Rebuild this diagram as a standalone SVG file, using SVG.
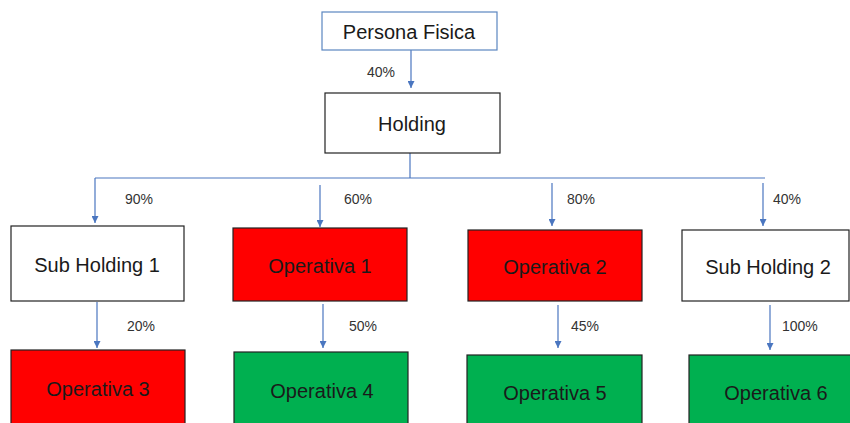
<svg xmlns="http://www.w3.org/2000/svg" width="850" height="423" viewBox="0 0 850 423">
<style>
.box{stroke:#222;stroke-width:1.2}
.w{fill:#fff}
.r{fill:#ff0000}
.g{fill:#00b050}
.t{font-family:"Liberation Sans",Arial,sans-serif;font-size:20px;fill:#1a1a1a;text-anchor:middle;dominant-baseline:central}
.p{font-family:"Liberation Sans",Arial,sans-serif;font-size:14px;fill:#333}
.c{stroke:#4a76c0;stroke-width:1.2;fill:none}
</style>
<defs>
<marker id="ah" viewBox="0 0 10 10" refX="10" refY="5" markerWidth="7" markerHeight="7" markerUnits="userSpaceOnUse" orient="auto">
<path d="M0,0 L10,5 L0,10 z" fill="#4a76c0"/>
</marker>
</defs>
<rect width="850" height="423" fill="#fff"/>
<g id="connectors">
<line class="c" x1="411" y1="50" x2="411" y2="88" marker-end="url(#ah)"/>
<text class="p" x="367" y="77">40%</text>
<polyline class="c" points="410,153 410,178"/>
<line class="c" x1="95" y1="178" x2="765" y2="178"/>
<line class="c" x1="95" y1="178" x2="95" y2="223" marker-end="url(#ah)"/>
<text class="p" x="125" y="204">90%</text>
<line class="c" x1="320" y1="185" x2="320" y2="227" marker-end="url(#ah)"/>
<text class="p" x="344" y="204">60%</text>
<line class="c" x1="552" y1="183" x2="552" y2="226" marker-end="url(#ah)"/>
<text class="p" x="567" y="204">80%</text>
<line class="c" x1="763" y1="183" x2="763" y2="226" marker-end="url(#ah)"/>
<text class="p" x="773" y="204">40%</text>
<line class="c" x1="97" y1="302" x2="97" y2="348" marker-end="url(#ah)"/>
<text class="p" x="127" y="331">20%</text>
<line class="c" x1="323" y1="304" x2="323" y2="348" marker-end="url(#ah)"/>
<text class="p" x="349" y="331">50%</text>
<line class="c" x1="558" y1="305" x2="558" y2="348" marker-end="url(#ah)"/>
<text class="p" x="571" y="331">45%</text>
<line class="c" x1="770" y1="305" x2="770" y2="350" marker-end="url(#ah)"/>
<text class="p" x="782" y="331">100%</text>
</g>
<g id="persona-fisica">
<rect x="322" y="12" width="175" height="38" fill="#fff" stroke="#5b86c0" stroke-width="1.2"/>
<text class="t" x="409" y="32">Persona Fisica</text>
</g>
<g id="holding">
<rect class="box w" x="325" y="93" width="175" height="60"/>
<text class="t" x="412" y="124">Holding</text>
</g>
<g id="sub-holding-1">
<rect class="box w" x="11" y="226" width="173" height="75"/>
<text class="t" x="97" y="265">Sub Holding 1</text>
</g>
<g id="operativa-1">
<rect class="box r" x="233" y="228" width="174" height="73"/>
<text class="t" x="320" y="266">Operativa 1</text>
</g>
<g id="operativa-2">
<rect class="box r" x="468" y="230" width="174" height="71"/>
<text class="t" x="555" y="267">Operativa 2</text>
</g>
<g id="sub-holding-2">
<rect class="box w" x="682" y="230" width="167" height="71"/>
<text class="t" x="768" y="267">Sub Holding 2</text>
</g>
<g id="operativa-3">
<rect class="box r" x="11" y="350" width="174" height="80"/>
<text class="t" x="98" y="389">Operativa 3</text>
</g>
<g id="operativa-4">
<rect class="box g" x="234" y="352" width="174" height="80"/>
<text class="t" x="322" y="391">Operativa 4</text>
</g>
<g id="operativa-5">
<rect class="box g" x="467" y="355" width="175" height="80"/>
<text class="t" x="555" y="393">Operativa 5</text>
</g>
<g id="operativa-6">
<rect class="box g" x="689" y="355" width="165" height="80"/>
<text class="t" x="776" y="393">Operativa 6</text>
</g>
</svg>
